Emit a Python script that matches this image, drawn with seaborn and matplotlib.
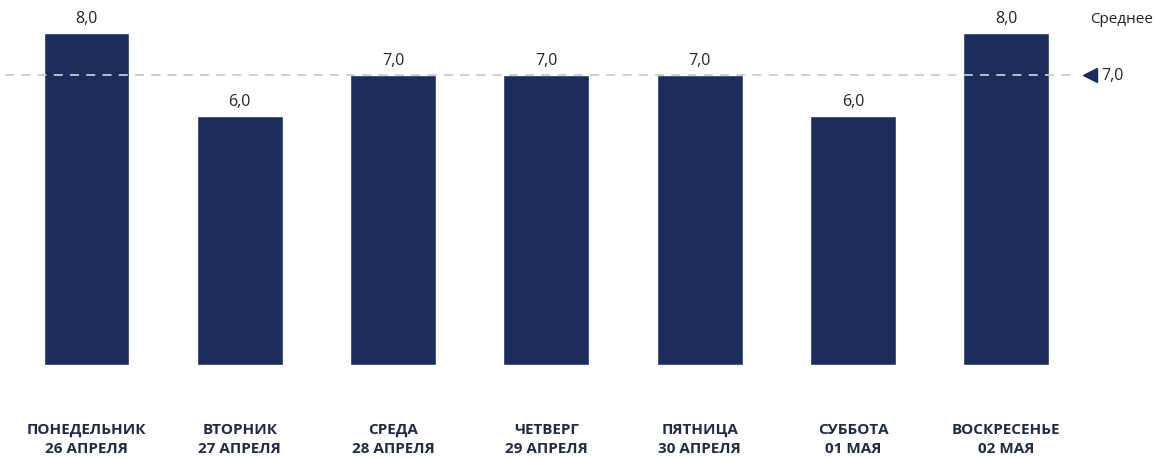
import numpy as np
import pandas as pd
import matplotlib
matplotlib.use("Agg")
import matplotlib.pyplot as plt
import seaborn as sns

# данные
days = ["ПОНЕДЕЛЬНИК", "ВТОРНИК", "СРЕДА", "ЧЕТВЕРГ", "ПЯТНИЦА", "СУББОТА", "ВОСКРЕСЕНЬЕ"]
dates = ["26 АПРЕЛЯ", "27 АПРЕЛЯ", "28 АПРЕЛЯ", "29 АПРЕЛЯ", "30 АПРЕЛЯ", "01 МАЯ", "02 МАЯ"]
values = [8.0, 6.0, 7.0, 7.0, 7.0, 6.0, 8.0]

sns.set_style("white")
plt.rcParams['font.family'] = ['Open Sans', 'DejaVu Sans']

df = pd.DataFrame({"label": [d + "\n" + t for d, t in zip(days, dates)], "value": values})
mean_val = np.mean(values)

navy = "#1b2d5a"

fig = plt.figure(figsize=(11.63, 4.6), dpi=100)
ax = fig.add_axes([0, 94 / 460, 1, 366 / 460])

sns.barplot(data=df, x="label", y="value", color=navy, width=0.56, saturation=1, ax=ax)

ax.set_xlim(-86.5 / 153.3, (1163 - 86.5) / 153.3)
ax.set_ylim(0, 366 / 41.5)

for i, v in enumerate(values):
    ax.text(i, v + 0.16, f"{v:.1f}".replace(".", ","), ha="center", va="bottom",
            fontsize=11.5, color="#222222")

# средняя линия
ax.axhline(mean_val, xmin=5 / 1163, xmax=1075 / 1163, color="#c5cad6", lw=1.3,
           ls=(0, (5, 4)), zorder=5)
ax.plot([1090 / 1163], [mean_val], marker="<", color=navy, markersize=10,
        transform=ax.get_yaxis_transform(), clip_on=False)
ax.text(1101 / 1163, mean_val, f"{mean_val:.1f}".replace(".", ","), transform=ax.get_yaxis_transform(),
        ha="left", va="center", fontsize=11.5, color="#222222")
ax.text(1122 / 1163, 8.34, "Среднее", transform=ax.get_yaxis_transform(),
        ha="center", va="center", fontsize=11, color="#222222")

ax.set_xlabel("")
ax.set_ylabel("")
ax.set_yticks([])
ax.tick_params(axis="x", length=0, pad=41, labelsize=11)
for lab in ax.get_xticklabels():
    lab.set_fontweight("bold")
    lab.set_color("#1f2a44")
    lab.set_linespacing(1.5)
sns.despine(ax=ax, left=True, bottom=True)

fig.savefig("out.png", dpi=100)
